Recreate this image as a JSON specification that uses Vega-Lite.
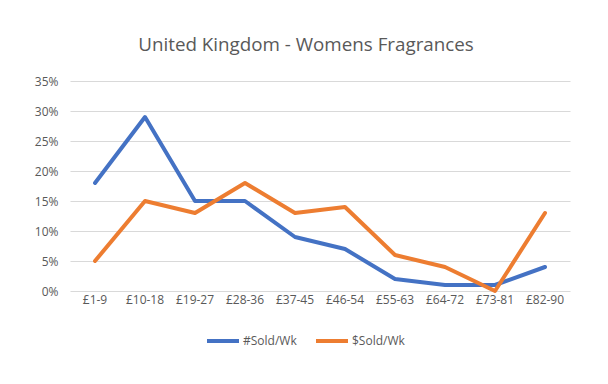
{
  "$schema": "https://vega.github.io/schema/vega-lite/v6.json",
  "autosize": {"type": "none"},
  "width": 500,
  "height": 210,
  "padding": {"left": 70, "top": 81, "right": 38, "bottom": 93},
  "background": "white",
  "title": {
    "text": "United Kingdom - Womens Fragrances",
    "font": "Open Sans",
    "fontSize": 18.8,
    "fontWeight": "normal",
    "color": "#595959",
    "offset": 20,
    "dx": -14
  },
  "data": {
    "values": [
      {"price": "£1-9", "series": "#Sold/Wk", "value": 0.18},
      {"price": "£10-18", "series": "#Sold/Wk", "value": 0.29},
      {"price": "£19-27", "series": "#Sold/Wk", "value": 0.15},
      {"price": "£28-36", "series": "#Sold/Wk", "value": 0.15},
      {"price": "£37-45", "series": "#Sold/Wk", "value": 0.09},
      {"price": "£46-54", "series": "#Sold/Wk", "value": 0.07},
      {"price": "£55-63", "series": "#Sold/Wk", "value": 0.02},
      {"price": "£64-72", "series": "#Sold/Wk", "value": 0.01},
      {"price": "£73-81", "series": "#Sold/Wk", "value": 0.01},
      {"price": "£82-90", "series": "#Sold/Wk", "value": 0.04},
      {"price": "£1-9", "series": "$Sold/Wk", "value": 0.05},
      {"price": "£10-18", "series": "$Sold/Wk", "value": 0.15},
      {"price": "£19-27", "series": "$Sold/Wk", "value": 0.13},
      {"price": "£28-36", "series": "$Sold/Wk", "value": 0.18},
      {"price": "£37-45", "series": "$Sold/Wk", "value": 0.13},
      {"price": "£46-54", "series": "$Sold/Wk", "value": 0.14},
      {"price": "£55-63", "series": "$Sold/Wk", "value": 0.06},
      {"price": "£64-72", "series": "$Sold/Wk", "value": 0.04},
      {"price": "£73-81", "series": "$Sold/Wk", "value": 0.0},
      {"price": "£82-90", "series": "$Sold/Wk", "value": 0.13}
    ]
  },
  "mark": {"type": "line", "strokeWidth": 4, "strokeJoin": "round", "strokeCap": "round"},
  "encoding": {
    "x": {
      "field": "price",
      "type": "ordinal",
      "sort": null,
      "scale": {"type": "band", "paddingInner": 0, "paddingOuter": 0},
      "axis": {
        "title": null,
        "labelAngle": 0,
        "domain": false,
        "ticks": false,
        "grid": false,
        "labelFont": "Open Sans",
        "labelFontSize": 12,
        "labelColor": "#595959",
        "labelPadding": 3
      }
    },
    "y": {
      "field": "value",
      "type": "quantitative",
      "scale": {"domain": [0, 0.35], "nice": false},
      "axis": {
        "title": null,
        "format": ".0%",
        "values": [0, 0.05, 0.1, 0.15, 0.2, 0.25, 0.3, 0.35],
        "domain": false,
        "ticks": false,
        "gridColor": "#d9d9d9",
        "gridWidth": 1,
        "labelFont": "Open Sans",
        "labelFontSize": 12,
        "labelColor": "#595959",
        "labelPadding": 12
      }
    },
    "color": {
      "field": "series",
      "type": "nominal",
      "scale": {"domain": ["#Sold/Wk", "$Sold/Wk"], "range": ["#4472C4", "#ED7D31"]},
      "legend": {
        "title": null,
        "orient": "none",
        "direction": "horizontal",
        "legendX": 135,
        "legendY": 242,
        "symbolType": "stroke",
        "symbolSize": 1024,
        "symbolStrokeWidth": 4,
        "labelFont": "Open Sans",
        "labelFontSize": 12,
        "labelColor": "#595959",
        "labelOffset": 2,
        "columnPadding": 11
      }
    }
  },
  "config": {"view": {"stroke": null}}
}
